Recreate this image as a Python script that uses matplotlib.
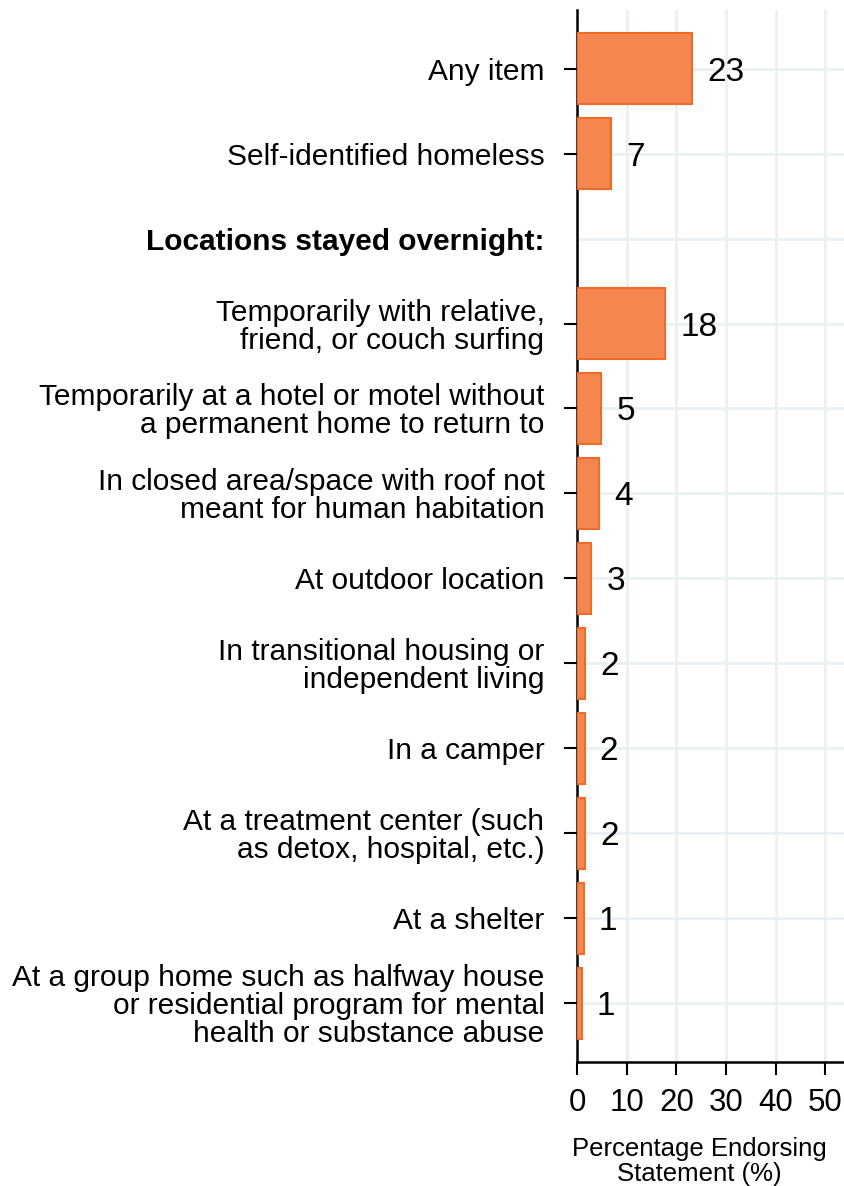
import numpy as np
import matplotlib
matplotlib.use("Agg")
from matplotlib import pyplot as plt

plt.rcParams['font.family'] = ['Liberation Sans', 'DejaVu Sans']

# categories top to bottom, heading row has no bar
categories = [
    "Any item",
    "Self-identified homeless",
    "Locations stayed overnight:",
    "Temporarily with relative,\nfriend, or couch surfing",
    "Temporarily at a hotel or motel without\na permanent home to return to",
    "In closed area/space with roof not\nmeant for human habitation",
    "At outdoor location",
    "In transitional housing or\nindependent living",
    "In a camper",
    "At a treatment center (such\nas detox, hospital, etc.)",
    "At a shelter",
    "At a group home such as halfway house\nor residential program for mental\nhealth or substance abuse",
]
values = [23.2, 6.9, np.nan, 17.8, 4.9, 4.4, 2.8, 1.6, 1.5, 1.6, 1.3, 0.9]
heading_idx = 2
xticks = [0, 10, 20, 30, 40, 50]

fig = plt.figure(figsize=(8.45, 11.86), dpi=100)
ax = fig.add_axes([0.683, 0.1046, 0.317, 0.887])

ypos = np.arange(len(categories))
vals = np.array(values)
has_bar = ~np.isnan(vals)
ax.barh(ypos[has_bar], vals[has_bar], height=0.84, color="#F4874F",
        edgecolor="#F06A28", linewidth=1.5, zorder=3)

for y, v in zip(ypos[has_bar], vals[has_bar]):
    ax.annotate(f"{v:.0f}", (v, y), xytext=(11, 0), textcoords="offset points",
                ha="left", va="center_baseline", fontsize=24, color="black")

ax.set_ylim(len(categories) - 1 + 0.69, -0.69)
ax.set_xlim(0, 54)
ax.set_yticks(ypos)
ax.set_yticklabels(categories, fontsize=21.5, linespacing=1.0)
ax.set_xticks(xticks)
ax.set_xticklabels([str(t) for t in xticks], fontsize=22.5)

lab = ax.get_yticklabels()[heading_idx]
lab.set_fontweight("bold")
ax.yaxis.get_major_ticks()[heading_idx].tick1line.set_visible(False)

ax.tick_params(axis="y", length=9.5, width=1.5, pad=14)
ax.tick_params(axis="x", length=9.5, width=1.5, pad=9)

ax.grid(True, color="#EAF1F2", linewidth=2, zorder=0)
ax.set_axisbelow(True)
for s in ["top", "right"]:
    ax.spines[s].set_visible(False)
for s in ["left", "bottom"]:
    ax.spines[s].set_linewidth(1.8)
    ax.spines[s].set_color("black")

ax.set_xlabel("Percentage Endorsing\nStatement (%)", fontsize=18.5, linespacing=1.05)
ax.xaxis.set_label_coords(0.455, -0.071, transform=ax.transAxes)

fig.savefig("out.png", dpi=100)
